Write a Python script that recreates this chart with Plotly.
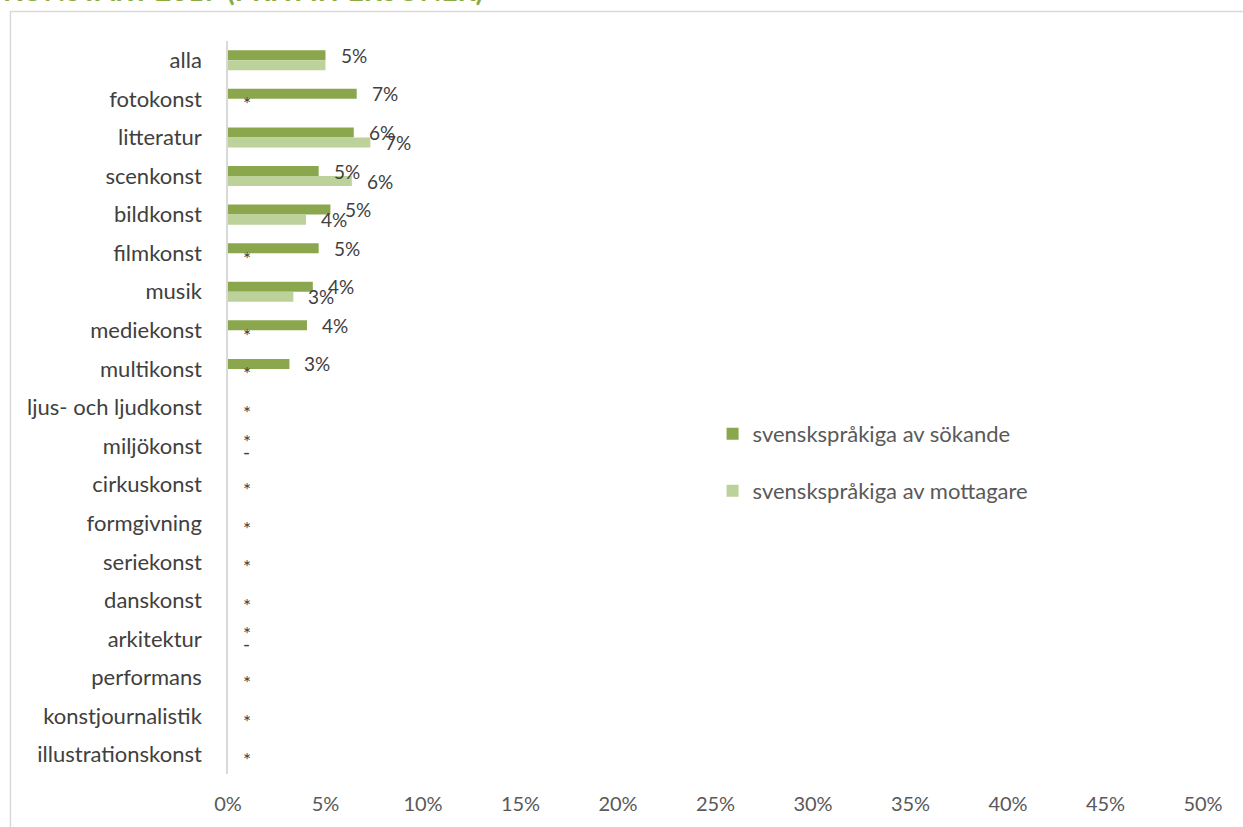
import plotly.graph_objects as go

categories = ["alla", "fotokonst", "litteratur", "scenkonst", "bildkonst", "filmkonst",
              "musik", "mediekonst", "multikonst", "ljus- och ljudkonst", "miljökonst",
              "cirkuskonst", "formgivning", "seriekonst", "danskonst", "arkitektur",
              "performans", "konstjournalistik", "illustrationskonst"]

sokande = [5.0, 6.6, 6.45, 4.65, 5.25, 4.65, 4.35, 4.05, 3.15,
           0, 0, 0, 0, 0, 0, 0, 0, 0, 0]
mottagare = [5.0, 0, 7.3, 6.35, 4.0, 0, 3.35, 0, 0,
             0, 0, 0, 0, 0, 0, 0, 0, 0, 0]

sokande_labels = ["5%", "7%", "6%", "5%", "5%", "5%", "4%", "4%", "3%",
                  "", "*", "", "", "", "", "*", "", "", ""]
mottagare_labels = ["", "*", "7%", "6%", "4%", "*", "3%", "*", "*",
                    "*", "-", "*", "*", "*", "*", "-", "*", "*", "*"]

series_names = ["svenskspråkiga av sökande", "svenskspråkiga av mottagare"]
title_text = "KONSTART 2017 (PRIVATPERSONER)"

DARK = "#8BA74E"
LIGHT = "#BCD29A"
FONT = "Lato"

fig = go.Figure()
fig.add_trace(go.Bar(y=categories, x=sokande, orientation="h", name=series_names[0],
                     marker=dict(color=DARK, line=dict(width=0)), legend="legend"))
fig.add_trace(go.Bar(y=categories, x=mottagare, orientation="h", name=series_names[1],
                     marker=dict(color=LIGHT, line=dict(width=0)), legend="legend2"))

annotations = []
for vals, labels, ysh in ((sokande, sokande_labels, 5), (mottagare, mottagare_labels, -5)):
    for c, v, t in zip(categories, vals, labels):
        if not t:
            continue
        annotations.append(dict(x=v, y=c, xref="x", yref="y", text=t, showarrow=False,
                                xanchor="left", yanchor="middle", xshift=13, yshift=ysh,
                                font=dict(family=FONT, size=19, color="#404040")))

annotations.append(dict(x=-0.233, y=1.044, xref="paper", yref="paper", text="<b>" + title_text + "</b>",
                        showarrow=False, xanchor="left", yanchor="bottom",
                        font=dict(family=FONT, size=28, color="#8AAB3F")))

fig.update_layout(
    width=1243, height=827,
    margin=dict(l=228, r=40, t=41, b=53, pad=0),
    paper_bgcolor="white", plot_bgcolor="white",
    barmode="group", bargap=0.48, bargroupgap=0,
    font=dict(family=FONT, color="#404040"),
    xaxis=dict(range=[0, 50], dtick=5, ticksuffix="%", showgrid=False, zeroline=False,
               showline=False, ticks="", tickfont=dict(size=20, color="#595959"),
               ticklabelstandoff=16, fixedrange=True),
    yaxis=dict(categoryorder="array", categoryarray=categories, autorange="reversed",
               showline=True, linecolor="#D9D9D9", linewidth=1.5, showgrid=False,
               zeroline=False, ticks="", tickfont=dict(size=22, color="#404040"),
               ticklabelstandoff=20, fixedrange=True),
    legend=dict(x=0.497, y=0.464, xanchor="left", yanchor="middle",
                font=dict(family=FONT, size=22, color="#595959"), bgcolor="rgba(0,0,0,0)"),
    legend2=dict(x=0.497, y=0.386, xanchor="left", yanchor="middle",
                 font=dict(family=FONT, size=22, color="#595959"), bgcolor="rgba(0,0,0,0)"),
    annotations=annotations,
    shapes=[dict(type="rect", xref="paper", yref="paper", x0=-0.2231, x1=1.2, y0=-0.2, y1=1.0401,
                 line=dict(color="#D9D9D9", width=1.5), fillcolor="rgba(0,0,0,0)", layer="below")],
    showlegend=True,
)

fig.write_html("out.html", config={"displayModeBar": False},
               post_script="document.body.style.margin='0';document.body.style.overflow='hidden';")
